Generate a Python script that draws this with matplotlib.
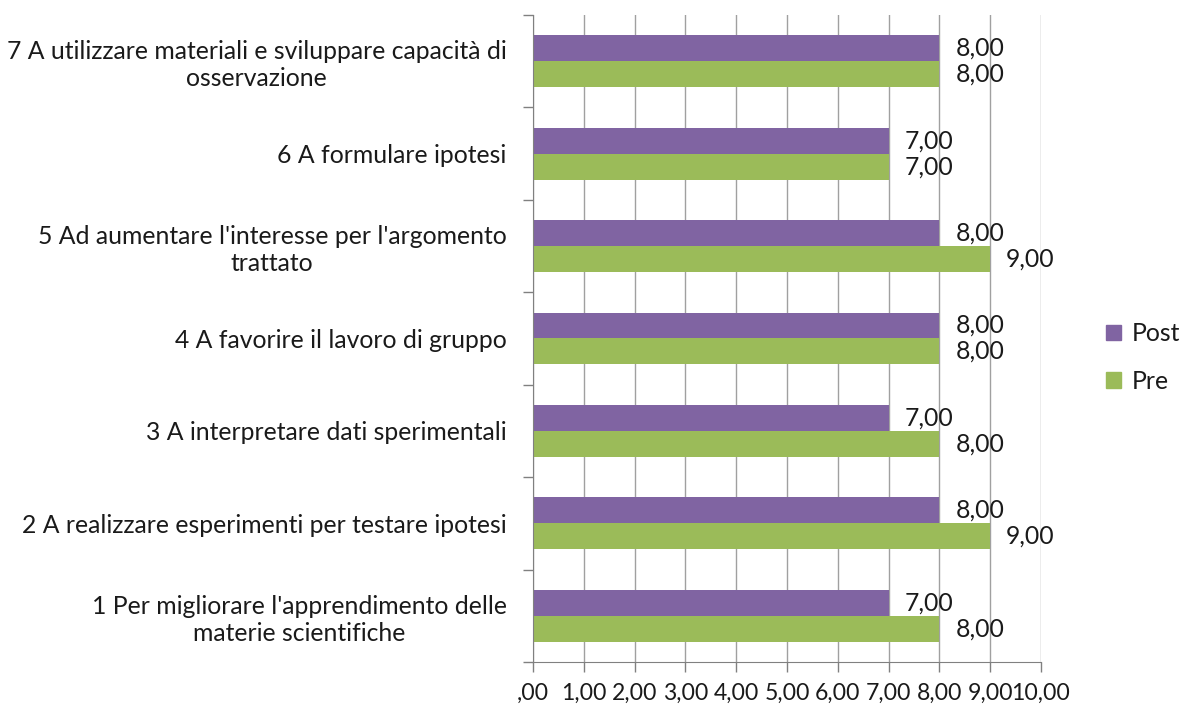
import numpy as np
from matplotlib import pyplot as plt
from matplotlib.ticker import FuncFormatter, MultipleLocator
from matplotlib.patches import Patch

categories = [
    "1 Per migliorare l'apprendimento delle\nmaterie scientifiche",
    "2 A realizzare esperimenti per testare ipotesi",
    "3 A interpretare dati sperimentali",
    "4 A favorire il lavoro di gruppo",
    "5 Ad aumentare l'interesse per l'argomento\ntrattato",
    "6 A formulare ipotesi",
    "7 A utilizzare materiali e sviluppare capacità di\nosservazione",
]
post = [7, 8, 7, 8, 8, 7, 8]
pre = [8, 9, 8, 8, 9, 7, 8]

c_post = '#8064A2'
c_pre = '#9BBB59'

plt.rcParams['font.family'] = ['Lato', 'DejaVu Sans']
fs = 17.8

def fmt(v):
    s = f"{v:.2f}".replace('.', ',')
    return s[1:] if v == 0 else s

fig = plt.figure(figsize=(11.86, 7.08), dpi=100)
ax = fig.add_axes([0.4494, 0.065, 0.4283, 0.9138])

y = np.arange(len(categories))
h = 0.28
ax.barh(y + h / 2, post, height=h, color=c_post)
ax.barh(y - h / 2, pre, height=h, color=c_pre)

for yi, v in zip(y + h / 2, post):
    ax.annotate(fmt(v), (v, yi), xytext=(11.5, 0), textcoords='offset points',
                va='center', ha='left', fontsize=fs, color='#1a1a1a')
for yi, v in zip(y - h / 2, pre):
    ax.annotate(fmt(v), (v, yi), xytext=(11.5, 0), textcoords='offset points',
                va='center', ha='left', fontsize=fs, color='#1a1a1a')

ax.set_xlim(0, 10)
ax.set_ylim(-0.5, len(categories) - 0.5)
ax.xaxis.set_major_locator(MultipleLocator(1))
ax.xaxis.set_major_formatter(FuncFormatter(lambda v, p: fmt(v)))
ax.grid(axis='x', color='#a0a0a0', linewidth=1)
ax.set_axisbelow(True)

ax.set_yticks(y)
ax.set_yticklabels(categories, fontsize=fs, ha='right', multialignment='center', color='#1a1a1a')
ax.tick_params(axis='y', length=0, pad=19)
ax.set_yticks(np.arange(-0.5, len(categories)), minor=True)
ax.tick_params(axis='y', which='minor', length=7, color='#808080', width=1)
ax.tick_params(axis='x', length=7, color='#808080', width=1, labelsize=16.6, pad=8, labelcolor='#1a1a1a')

for s in ['top', 'right']:
    ax.spines[s].set_visible(False)
ax.spines['left'].set_color('#808080')
ax.spines['bottom'].set_color('#808080')

handles = [Patch(color=c_post, label='Post'), Patch(color=c_pre, label='Pre')]
fig.legend(handles=handles, loc='center left', bbox_to_anchor=(0.918, 0.495), frameon=False,
           fontsize=fs, handlelength=0.6, handleheight=0.6, labelspacing=1.0, handletextpad=0.45,
           labelcolor='#1a1a1a', borderpad=0.2)

plt.savefig('out.png')
